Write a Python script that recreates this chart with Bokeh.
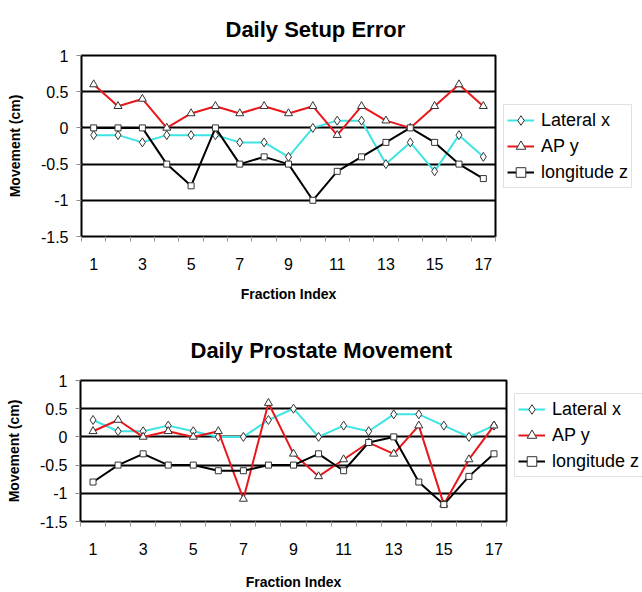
from bokeh.plotting import figure
from bokeh.models import Range1d, FixedTicker, Legend, LegendItem
from bokeh.layouts import column, row
from bokeh.embed import file_html
from bokeh.resources import INLINE

FONT = "Liberation Sans"

# ---- data ----
fractions = list(range(1, 18))
x_tick_values = [1, 3, 5, 7, 9, 11, 13, 15, 17]
x_boundaries = [i + 0.5 for i in range(0, 18)]
y_tick_values = [1, 0.5, 0, -0.5, -1, -1.5]
y_tick_labels = ["1", "0.5", "0", "-0.5", "-1", "-1.5"]
grid_values = [0.5, 0, -0.5, -1]
series_names = ["Lateral x", "AP y", "longitude z"]

setup_title = "Daily Setup Error"
setup_lateral = [-0.1, -0.1, -0.2, -0.1, -0.1, -0.1, -0.2, -0.2, -0.4, 0, 0.1, 0.1, -0.5, -0.2, -0.6, -0.1, -0.4]
setup_ap = [0.6, 0.3, 0.4, 0, 0.2, 0.3, 0.2, 0.3, 0.2, 0.3, -0.1, 0.3, 0.1, 0, 0.3, 0.6, 0.3]
setup_long = [0, 0, 0, -0.5, -0.8, 0, -0.5, -0.4, -0.5, -1, -0.6, -0.4, -0.2, 0, -0.2, -0.5, -0.7]

prostate_title = "Daily Prostate Movement"
prostate_lateral = [0.3, 0.1, 0.1, 0.2, 0.1, 0, 0, 0.3, 0.5, 0, 0.2, 0.1, 0.4, 0.4, 0.2, 0, 0.2]
prostate_ap = [0.1, 0.3, 0, 0.1, 0, 0.1, -1.1, 0.6, -0.3, -0.7, -0.4, -0.1, -0.3, 0.2, -1.2, -0.4, 0.2]
prostate_long = [-0.8, -0.5, -0.3, -0.5, -0.5, -0.6, -0.6, -0.5, -0.5, -0.3, -0.6, -0.1, 0, -0.8, -1.2, -0.7, -0.3]

x_label = "Fraction Index"
y_label = "Movement (cm)"

COLORS = ["#3CE4E4", "#E8171C", "#000000"]
MARKERS = ["diamond", "triangle", "square"]
SIZES = [9, 8, 6]


def style_renderers(p, series):
    out = []
    for vals, col, mk, sz in zip(series, COLORS, MARKERS, SIZES):
        ln = p.line(fractions, vals, line_color=col, line_width=2)
        sc = p.scatter(fractions, vals, marker=mk, size=sz, fill_color="white",
                       line_color="#333333", line_width=1)
        out.append([ln, sc])
    return out


def make_chart(title, series, width, height, borders, title_offset, title_standoff, xlabel_standoff):
    bl, br, bt, bb = borders
    p = figure(width=width, height=height,
               x_range=Range1d(0.5, 17.5), y_range=Range1d(-1.5, 1),
               output_backend="svg", toolbar_location=None,
               min_border_left=bl, min_border_right=br,
               min_border_top=bt, min_border_bottom=bb)
    p.background_fill_color = "white"
    p.border_fill_color = "white"
    p.outline_line_color = "black"
    p.outline_line_width = 2

    p.title.text = title
    p.title.text_font = FONT
    p.title.text_font_size = "22px"
    p.title.text_font_style = "bold"
    p.title.text_color = "black"
    p.title.align = "left"
    p.title.offset = title_offset
    p.title.standoff = title_standoff

    xa = p.xaxis[0]
    xa.ticker = FixedTicker(ticks=x_tick_values, minor_ticks=x_boundaries)
    xa.axis_line_color = None
    xa.major_tick_line_color = None
    xa.major_tick_out = 0
    xa.major_tick_in = 0
    xa.minor_tick_line_color = "#9a9a9a"
    xa.minor_tick_out = 5
    xa.minor_tick_in = 0
    xa.major_label_standoff = 16
    xa.major_label_text_font = FONT
    xa.major_label_text_font_size = "16px"
    xa.major_label_text_color = "black"
    xa.axis_label = x_label
    xa.axis_label_text_font = FONT
    xa.axis_label_text_font_size = "14px"
    xa.axis_label_text_font_style = "bold"
    xa.axis_label_text_color = "black"
    xa.axis_label_standoff = xlabel_standoff

    ya = p.yaxis[0]
    ya.ticker = FixedTicker(ticks=y_tick_values, minor_ticks=[])
    ya.major_label_overrides = {v: s for v, s in zip(y_tick_values, y_tick_labels)}
    ya.axis_line_color = None
    ya.major_tick_line_color = "#8a8a8a"
    ya.major_tick_out = 5
    ya.major_tick_in = 0
    ya.minor_tick_line_color = None
    ya.major_label_standoff = 8
    ya.major_label_text_font = FONT
    ya.major_label_text_font_size = "16px"
    ya.major_label_text_color = "black"
    ya.axis_label = y_label
    ya.axis_label_text_font = FONT
    ya.axis_label_text_font_size = "14px"
    ya.axis_label_text_font_style = "bold"
    ya.axis_label_text_color = "black"
    ya.axis_label_standoff = 15

    p.xgrid.visible = False
    p.ygrid.ticker = FixedTicker(ticks=grid_values, minor_ticks=[])
    p.ygrid.grid_line_color = "black"
    p.ygrid.grid_line_width = 2
    p.ygrid.grid_line_alpha = 1

    style_renderers(p, series)
    return p


def make_legend(series, width, height, loc):
    # legend panel: same series drawn off-view, only the legend is visible
    p = figure(width=width, height=height, x_range=Range1d(100, 101), y_range=Range1d(100, 101),
               output_backend="svg", toolbar_location=None, title=None,
               x_axis_location=None, y_axis_location=None,
               min_border=0, min_border_left=0, min_border_right=0,
               min_border_top=0, min_border_bottom=0)
    p.outline_line_color = None
    p.background_fill_color = "white"
    p.border_fill_color = "white"
    p.xgrid.visible = False
    p.ygrid.visible = False
    rends = style_renderers(p, series)
    items = [LegendItem(label=n, renderers=r) for n, r in zip(series_names, rends)]
    leg = Legend(items=items, location=loc)
    leg.label_text_font = FONT
    leg.label_text_font_size = "18px"
    leg.label_text_color = "black"
    leg.border_line_color = "#c4c4c4"
    leg.border_line_width = 1
    leg.background_fill_color = "white"
    leg.glyph_width = 27
    leg.glyph_height = 24
    leg.label_height = 24
    leg.label_standoff = 7
    leg.spacing = 2
    leg.padding = 3
    leg.margin = 0
    p.add_layout(leg)
    return p


s1 = [setup_lateral, setup_ap, setup_long]
s2 = [prostate_lateral, prostate_ap, prostate_long]

p1 = make_chart(setup_title, s1, 497, 318, (81, 2, 54, 82), 144, 28, 13)
l1 = make_legend(s1, 145, 318, (6, 48))
p2 = make_chart(prostate_title, s2, 508, 274, (80, 2, 61, 68), 110, 35, 16)
l2 = make_legend(s2, 134, 274, (6, 44))

layout = column(row(p1, l1, spacing=0), row(p2, l2, spacing=0), spacing=0)

with open("out.html", "w") as f:
    f.write(file_html(layout, INLINE))
